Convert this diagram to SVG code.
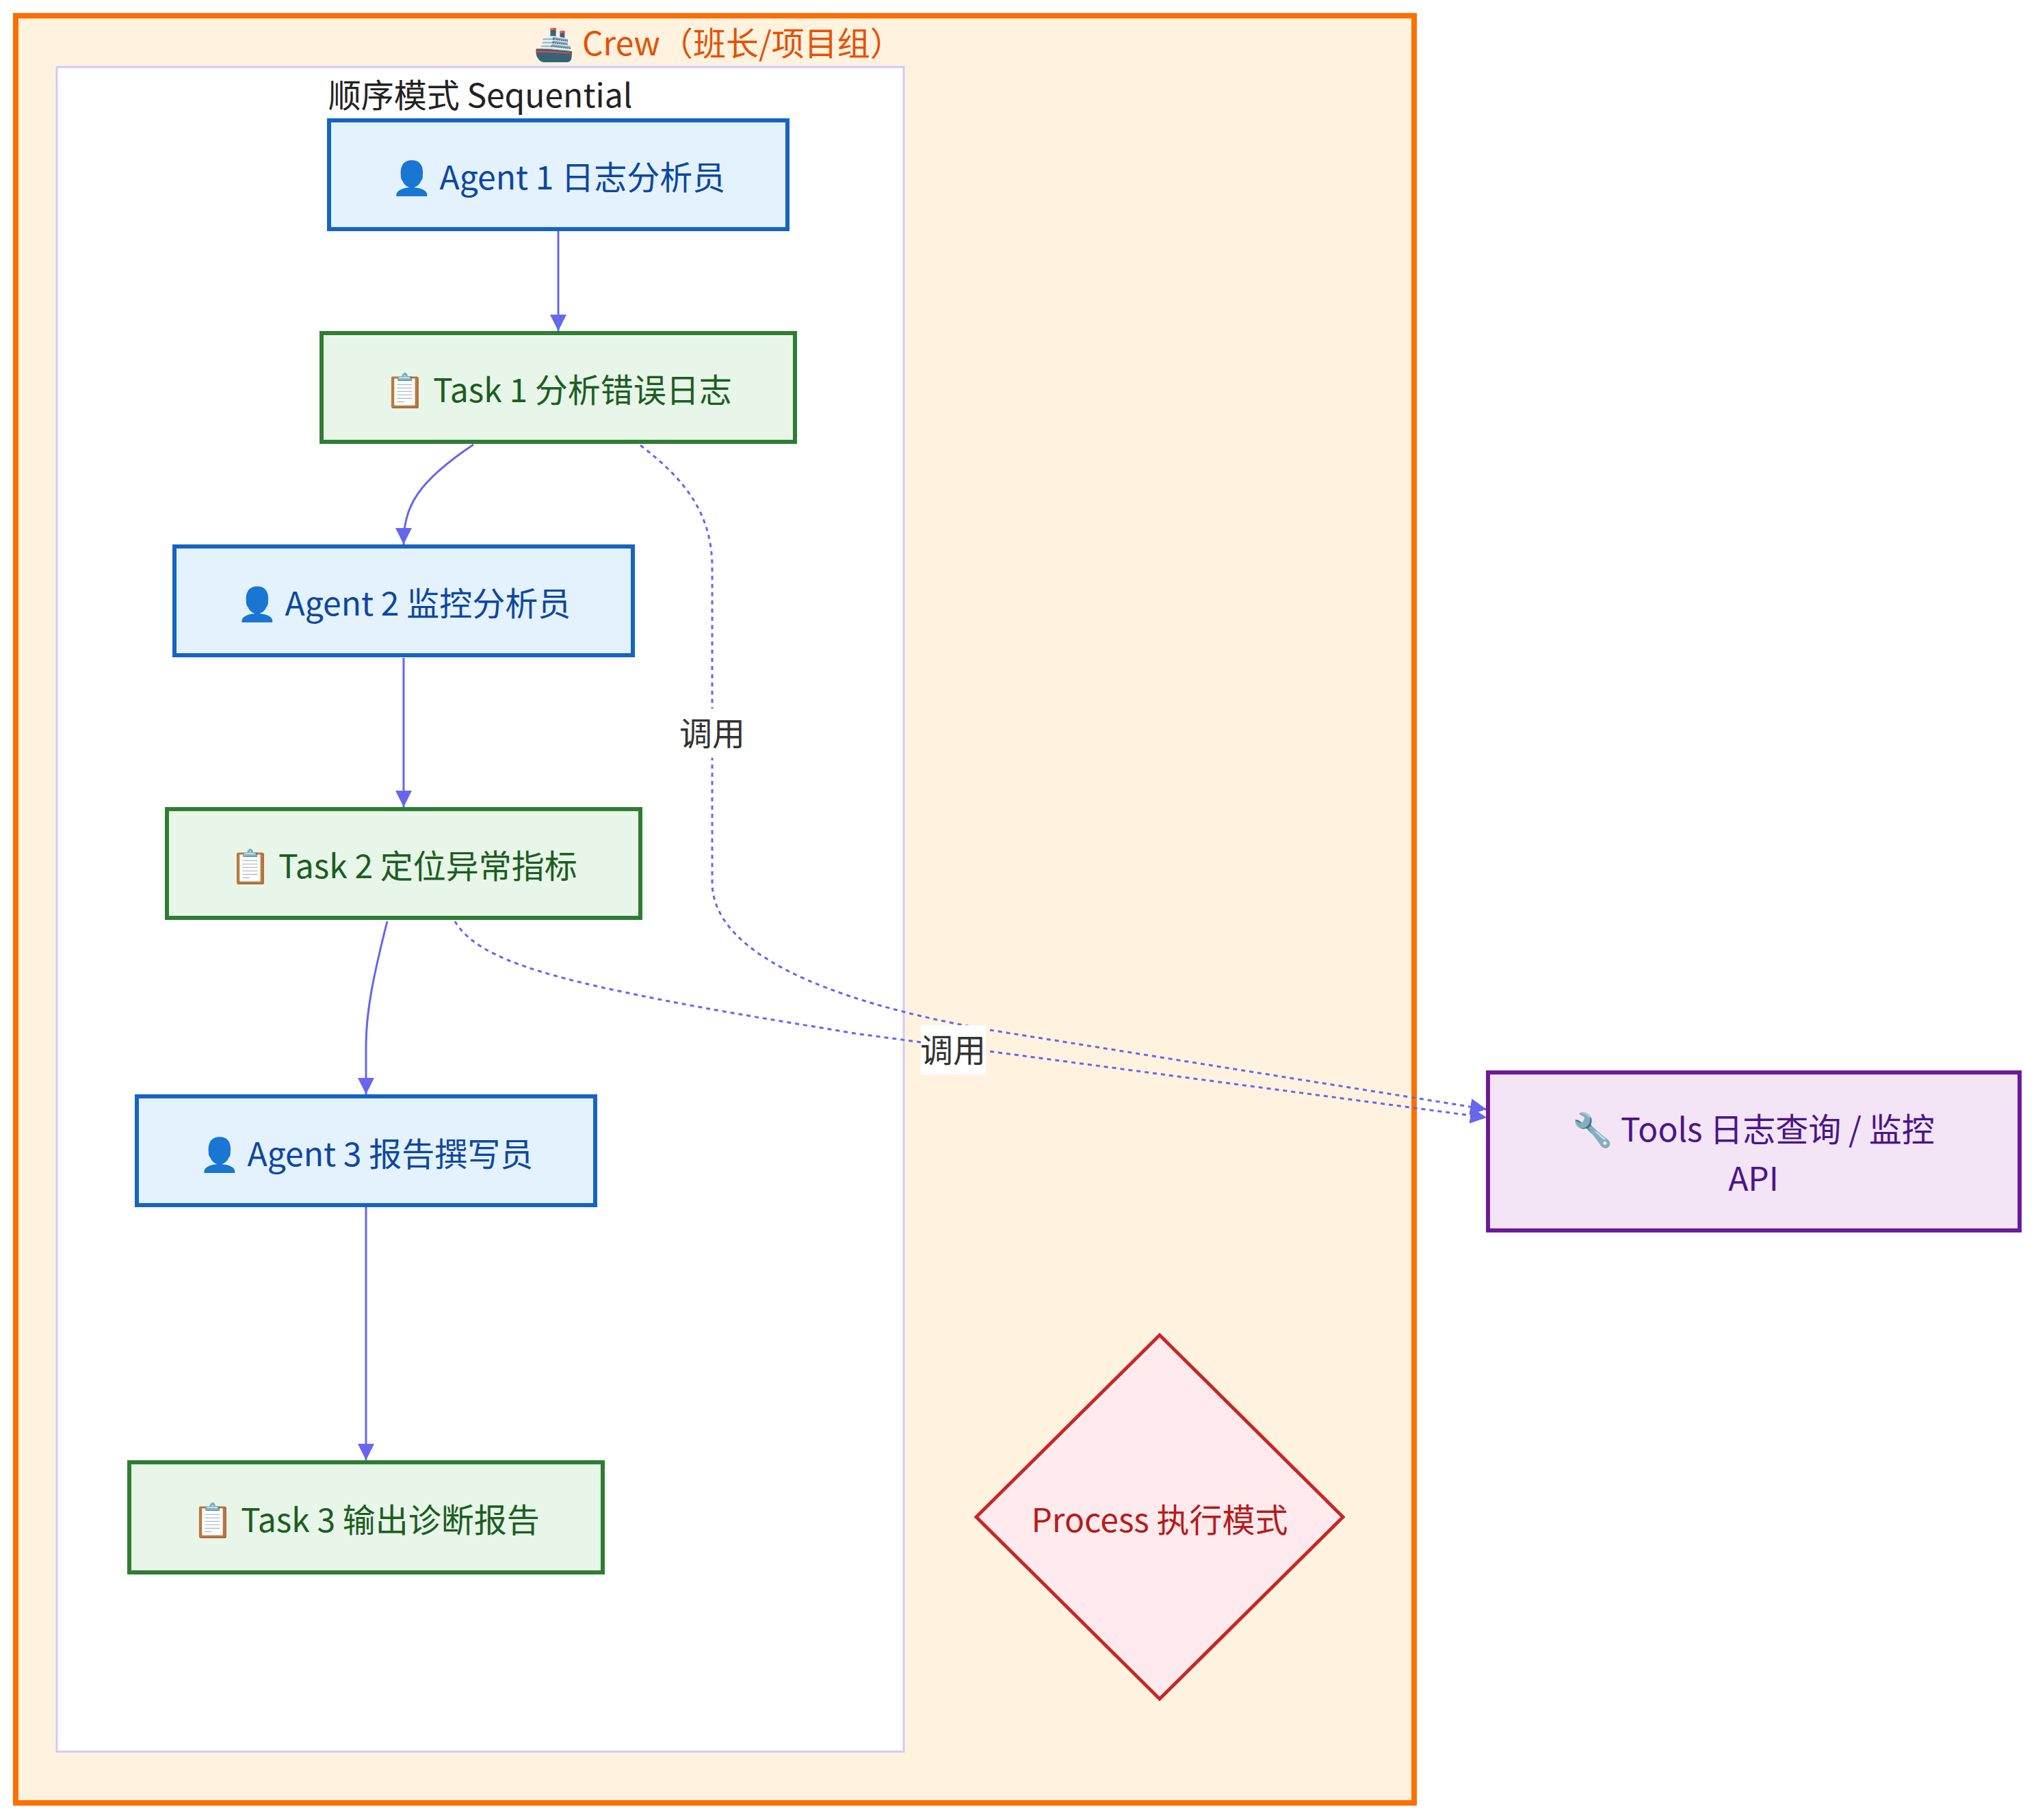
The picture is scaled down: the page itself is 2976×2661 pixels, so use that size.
<svg xmlns="http://www.w3.org/2000/svg" width="2976" height="2661" viewBox="0 0 2976 2661">
<defs>
<style>
text{font-family:"Noto Sans CJK SC","Noto Sans",sans-serif;font-size:48px;text-anchor:middle}
.agent rect{fill:#e3f2fd;stroke:#1565c0;stroke-width:6}
.agent text{fill:#0d47a1}
.task rect{fill:#e8f5e9;stroke:#2e7d32;stroke-width:6}
.task text{fill:#1b5e20}
.edge{fill:none;stroke:#6666ee;stroke-width:3}
.dot{stroke-dasharray:6 6}
.lbl{fill:#333}
</style>
<marker id="arr" viewBox="0 0 10 10" refX="10" refY="5" markerUnits="userSpaceOnUse" markerWidth="24" markerHeight="24" orient="auto">
<path d="M0,0 L10,5 L0,10 z" fill="#6666ee"/>
</marker>
</defs>
<rect width="2976" height="2661" fill="#ffffff"/>
<g id="crew">
<rect x="23" y="23" width="2044" height="2613" fill="#fff3e0" stroke="#ff6f00" stroke-width="8"/>
<text x="1050" y="81" fill="#e65100">🚢 Crew（班长/项目组）</text>
</g>
<g id="sequential">
<rect x="83" y="98" width="1238" height="2463" fill="#ffffff" stroke="#ccccf8" stroke-width="3"/>
<text x="702" y="157" fill="#222">顺序模式 Sequential</text>
</g>
<g id="connectors">
<path class="edge" d="M816 337 L816 484" marker-end="url(#arr)"/>
<path class="edge" d="M692 650 C610 705 590 740 590 796" marker-end="url(#arr)"/>
<path class="edge" d="M590 962 L590 1180" marker-end="url(#arr)"/>
<path class="edge" d="M566 1347 C545 1430 535 1480 535 1530 L535 1600" marker-end="url(#arr)"/>
<path class="edge" d="M535 1765 L535 2135" marker-end="url(#arr)"/>
<path class="edge dot" d="M936 651 C1000 700 1041 750 1041 830 L1041 1290 C1041 1390 1200 1462 1441 1505 L2173 1622" marker-end="url(#arr)"/>
<path class="edge dot" d="M665 1347 C690 1390 760 1418 900 1448 S1150 1494 1250 1511 L2173 1634" marker-end="url(#arr)"/>
<g id="label1">
<rect x="994" y="1036" width="94" height="72" fill="#ffffff"/>
<text class="lbl" x="1041" y="1090">调用</text>
</g>
<g id="label2">
<rect x="1346" y="1499" width="95" height="72" fill="#ffffff"/>
<text class="lbl" x="1393" y="1553">调用</text>
</g>
</g>
<g id="agent1" class="agent">
<rect x="481" y="176" width="670" height="159"/>
<text x="816" y="277">👤 Agent 1 日志分析员</text>
</g>
<g id="task1" class="task">
<rect x="470" y="487" width="692" height="159"/>
<text x="816" y="588">📋 Task 1 分析错误日志</text>
</g>
<g id="agent2" class="agent">
<rect x="255" y="799" width="670" height="159"/>
<text x="590" y="900">👤 Agent 2 监控分析员</text>
</g>
<g id="task2" class="task">
<rect x="244" y="1183" width="692" height="159"/>
<text x="590" y="1284">📋 Task 2 定位异常指标</text>
</g>
<g id="agent3" class="agent">
<rect x="200" y="1603" width="670" height="159"/>
<text x="535" y="1705">👤 Agent 3 报告撰写员</text>
</g>
<g id="task3" class="task">
<rect x="189" y="2138" width="692" height="161"/>
<text x="535" y="2240">📋 Task 3 输出诊断报告</text>
</g>
<g id="tools">
<rect x="2175" y="1568" width="777" height="231" fill="#f3e5f5" stroke="#6a1b9a" stroke-width="6"/>
<text x="2563" y="1669" fill="#4a148c">🔧 Tools 日志查询 / 监控</text>
<text x="2563" y="1741" fill="#4a148c">API</text>
</g>
<g id="process">
<polygon points="1695,1952 1963,2218 1695,2484 1427,2218" fill="#ffebee" stroke="#c62828" stroke-width="5"/>
<text x="1695" y="2240" fill="#b71c1c">Process 执行模式</text>
</g>
</svg>
